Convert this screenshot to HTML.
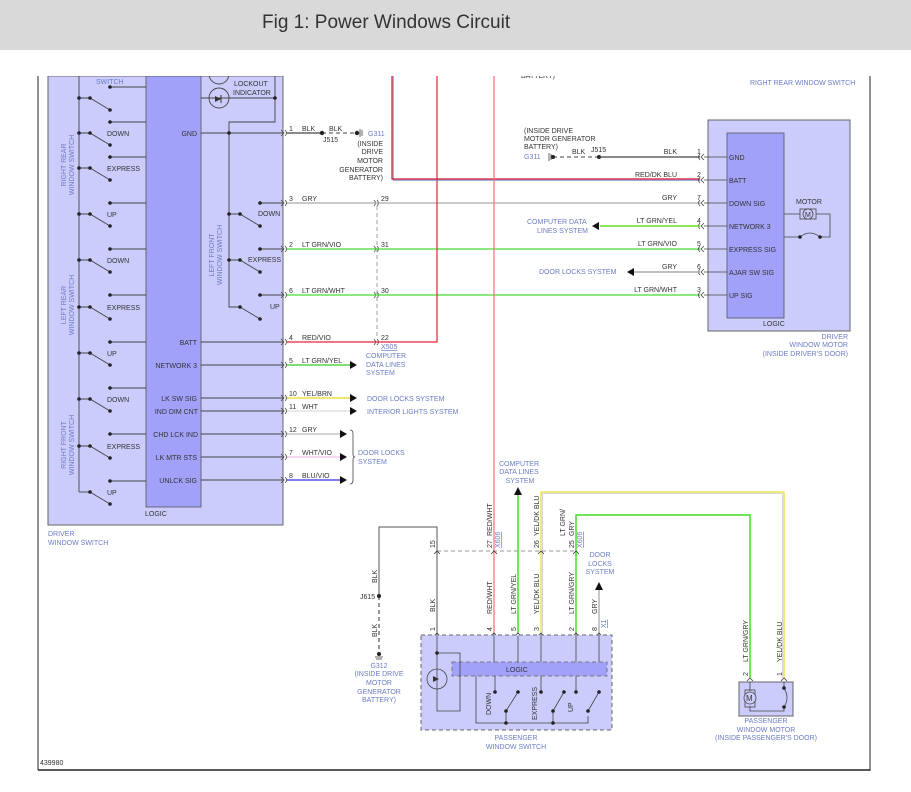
<!DOCTYPE html>
<html><head><meta charset="utf-8"><style>
html,body{margin:0;padding:0;background:#fff;}
svg{display:block;font-family:"Liberation Sans",sans-serif;}
.t{font-size:7px;fill:#333;}
.b{font-size:7px;fill:#6b7cc4;}
.w{fill:none;stroke-width:1.2;}
</style></head><body>
<svg width="911" height="792" viewBox="0 0 911 792" xmlns="http://www.w3.org/2000/svg">
<!-- frame -->
<line x1="38" y1="76" x2="38" y2="770" stroke="#222" stroke-width="1"/>
<line x1="870" y1="76" x2="870" y2="771" stroke="#222" stroke-width="1"/>
<line x1="38" y1="770" x2="870" y2="770" stroke="#222" stroke-width="1.5"/>
<text x="40" y="765" class="t">439980</text>

<!-- Driver window switch -->
<rect x="48" y="76" width="235" height="449" fill="#ccccfc" stroke="#666" stroke-width="1"/>
<rect x="146" y="76" width="55" height="431" fill="#a1a1f9" stroke="#555" stroke-width="0.8"/>
<text x="145" y="516" class="t">LOGIC</text>
<text x="48" y="536" class="b">DRIVER</text>
<text x="48" y="545" class="b">WINDOW SWITCH</text>
<text x="96" y="84" class="b">SWITCH</text>
<g stroke="#444" stroke-width="0.9" fill="none">
<line x1="79" y1="76" x2="79" y2="492"/>
<line x1="79" y1="492" x2="90" y2="492"/>
<path d="M110 87H146M110 122H146M110 157H146M110 203H146M110 249H146M110 295H146M110 342H146M110 388H146M110 434H146M110 481H146"/>
<path d="M79 98H90L110 110M79 133H90L110 145M79 168H90L110 180M79 214H90L110 226M79 260H90L110 272M79 307H90L110 319M79 353H90L110 365M79 399H90L110 411M79 446H90L110 458M90 492L110 504"/>
</g>
<g fill="#222">
<circle cx="110" cy="87" r="1.8"/><circle cx="110" cy="122" r="1.8"/><circle cx="110" cy="157" r="1.8"/><circle cx="110" cy="203" r="1.8"/><circle cx="110" cy="249" r="1.8"/><circle cx="110" cy="295" r="1.8"/><circle cx="110" cy="342" r="1.8"/><circle cx="110" cy="388" r="1.8"/><circle cx="110" cy="434" r="1.8"/><circle cx="110" cy="481" r="1.8"/>
<circle cx="79" cy="98" r="1.8"/><circle cx="90" cy="98" r="1.8"/><circle cx="110" cy="110" r="1.8"/>
<circle cx="79" cy="133" r="1.8"/><circle cx="90" cy="133" r="1.8"/><circle cx="110" cy="145" r="1.8"/>
<circle cx="79" cy="168" r="1.8"/><circle cx="90" cy="168" r="1.8"/><circle cx="110" cy="180" r="1.8"/>
<circle cx="79" cy="214" r="1.8"/><circle cx="90" cy="214" r="1.8"/><circle cx="110" cy="226" r="1.8"/>
<circle cx="79" cy="260" r="1.8"/><circle cx="90" cy="260" r="1.8"/><circle cx="110" cy="272" r="1.8"/>
<circle cx="79" cy="307" r="1.8"/><circle cx="90" cy="307" r="1.8"/><circle cx="110" cy="319" r="1.8"/>
<circle cx="79" cy="353" r="1.8"/><circle cx="90" cy="353" r="1.8"/><circle cx="110" cy="365" r="1.8"/>
<circle cx="79" cy="399" r="1.8"/><circle cx="90" cy="399" r="1.8"/><circle cx="110" cy="411" r="1.8"/>
<circle cx="79" cy="446" r="1.8"/><circle cx="90" cy="446" r="1.8"/><circle cx="110" cy="458" r="1.8"/>
<circle cx="90" cy="492" r="1.8"/><circle cx="110" cy="504" r="1.8"/>
</g>
<g class="t">
<text x="107" y="136">DOWN</text><text x="107" y="171">EXPRESS</text><text x="107" y="217">UP</text>
<text x="107" y="263">DOWN</text><text x="107" y="310">EXPRESS</text><text x="107" y="356">UP</text>
<text x="107" y="402">DOWN</text><text x="107" y="449">EXPRESS</text><text x="107" y="495">UP</text>
</g>
<g class="b" text-anchor="middle">
<text transform="translate(66,165) rotate(-90)">RIGHT REAR</text><text transform="translate(74,165) rotate(-90)">WINDOW SWITCH</text>
<text transform="translate(66,305) rotate(-90)">LEFT REAR</text><text transform="translate(74,305) rotate(-90)">WINDOW SWITCH</text>
<text transform="translate(66,445) rotate(-90)">RIGHT FRONT</text><text transform="translate(74,445) rotate(-90)">WINDOW SWITCH</text>
<text transform="translate(214,255) rotate(-90)">LEFT FRONT</text><text transform="translate(222,255) rotate(-90)">WINDOW SWITCH</text>
</g>
<!-- lockout -->
<g stroke="#444" stroke-width="0.9" fill="none">
<circle cx="219" cy="74" r="10"/><circle cx="219" cy="98" r="10"/>
<path d="M201 98H275V122H229V307H240L260 319"/>
<path d="M275 76V98"/>
<path d="M229 214H240L260 226M229 260H240L260 272"/>
<path d="M260 203H283M260 249H283M260 295H283"/>
<path d="M201 133H283M201 342H283M201 365H283M201 398H283M201 411H283M201 434H283M201 457H283M201 480H283"/>
</g>
<path d="M215 96l6 3-6 3z" fill="#333"/><line x1="221" y1="95" x2="221" y2="103" stroke="#333"/>
<g fill="#222"><circle cx="275" cy="98" r="1.8"/><circle cx="229" cy="133" r="1.8"/><circle cx="229" cy="214" r="1.8"/><circle cx="240" cy="214" r="1.8"/><circle cx="260" cy="226" r="1.8"/><circle cx="229" cy="260" r="1.8"/><circle cx="240" cy="260" r="1.8"/><circle cx="260" cy="272" r="1.8"/><circle cx="240" cy="307" r="1.8"/><circle cx="260" cy="319" r="1.8"/><circle cx="260" cy="203" r="1.8"/><circle cx="260" cy="249" r="1.8"/><circle cx="260" cy="295" r="1.8"/></g>
<g class="t">
<text x="234" y="86">LOCKOUT</text><text x="233" y="95">INDICATOR</text>
<text x="258" y="216">DOWN</text><text x="248" y="262">EXPRESS</text><text x="270" y="309">UP</text>
<g text-anchor="end"><text x="197" y="136">GND</text><text x="197" y="345">BATT</text><text x="197" y="368">NETWORK 3</text><text x="197" y="401">LK SW SIG</text><text x="198" y="414">IND DIM CNT</text><text x="198" y="437">CHD LCK IND</text><text x="197" y="460">LK MTR STS</text><text x="197" y="483">UNLCK SIG</text></g>
</g>

<!-- chevrons right of driver switch -->
<g stroke="#444" stroke-width="0.8" fill="none">
<path d="M281 130l3 3-3 3M285 130q3 3 0 6M281 200l3 3-3 3M285 200q3 3 0 6M281 246l3 3-3 3M285 246q3 3 0 6M281 292l3 3-3 3M285 292q3 3 0 6M281 339l3 3-3 3M285 339q3 3 0 6M281 362l3 3-3 3M285 362q3 3 0 6M281 395l3 3-3 3M285 395q3 3 0 6M281 408l3 3-3 3M285 408q3 3 0 6M281 431l3 3-3 3M285 431q3 3 0 6M281 454l3 3-3 3M285 454q3 3 0 6M281 477l3 3-3 3M285 477q3 3 0 6"/>
<path d="M374 200q3 3 0 6M377 200q3 3 0 6M374 246q3 3 0 6M377 246q3 3 0 6M374 292q3 3 0 6M377 292q3 3 0 6M374 339q3 3 0 6M377 339q3 3 0 6"/>
</g>
<line x1="377" y1="206" x2="377" y2="339" stroke="#888" stroke-width="0.8" stroke-dasharray="4,3"/>
<!-- wires -->
<line x1="287" y1="133" x2="322" y2="133" stroke="#444" class="w"/>
<line x1="322" y1="133" x2="358" y2="133" stroke="#444" stroke-width="1" stroke-dasharray="4,3"/>
<circle cx="322" cy="133" r="2.2" fill="#222"/><circle cx="357" cy="133" r="2.2" fill="#222"/>
<path d="M360 129v8M362 130v6" stroke="#666"/>
<line x1="287" y1="203" x2="700" y2="203" stroke="#aaa" class="w"/>
<line x1="287" y1="249" x2="700" y2="249" stroke="#44dd33" class="w" stroke-width="1.5"/>
<line x1="287" y1="295" x2="700" y2="295" stroke="#44dd33" class="w" stroke-width="1.5"/>
<path d="M287 342H437V76" stroke="#e8203a" class="w" stroke-width="1.3"/>
<path d="M393.2 76V180.2H700" stroke="#6677cc" fill="none" stroke-width="0.8"/>
<path d="M392 76V179H700" stroke="#d01830" class="w" stroke-width="1.3"/>
<path d="M494 76V633" stroke="#f07070" class="w" stroke-width="1.3"/>
<line x1="287" y1="365" x2="352" y2="365" stroke="#33cc22" class="w" stroke-width="1.5"/>
<line x1="287" y1="398" x2="352" y2="398" stroke="#e8d820" class="w" stroke-width="1.5"/>
<line x1="287" y1="411" x2="352" y2="411" stroke="#ddd" class="w" stroke-width="1.5"/>
<line x1="287" y1="434" x2="342" y2="434" stroke="#bbb" class="w" stroke-width="1.5"/>
<line x1="287" y1="457" x2="342" y2="457" stroke="#f0c0e8" class="w" stroke-width="1.5"/>
<line x1="287" y1="480" x2="342" y2="480" stroke="#3030e0" class="w" stroke-width="1.5"/>
<g fill="#111"><path d="M350 361l7 4-7 4z"/><path d="M350 394l7 4-7 4z"/><path d="M350 407l7 4-7 4z"/><path d="M340 430l7 4-7 4z"/><path d="M340 453l7 4-7 4z"/><path d="M340 476l7 4-7 4z"/></g>
<path d="M350 430q3 0 3 4v20q0 3 2 3q-2 0-2 3v20q0 4-3 4" stroke="#444" fill="none" stroke-width="0.8"/>
<g class="t">
<text x="289" y="131">1</text><text x="302" y="131">BLK</text><text x="329" y="131">BLK</text>
<text x="289" y="201">3</text><text x="302" y="201">GRY</text><text x="381" y="201">29</text>
<text x="289" y="247">2</text><text x="302" y="247">LT GRN/VIO</text><text x="381" y="247">31</text>
<text x="289" y="293">6</text><text x="302" y="293">LT GRN/WHT</text><text x="381" y="293">30</text>
<text x="289" y="340">4</text><text x="302" y="340">RED/VIO</text><text x="381" y="340">22</text>
<text x="289" y="363">5</text><text x="302" y="363">LT GRN/YEL</text>
<text x="289" y="396">10</text><text x="302" y="396">YEL/BRN</text>
<text x="289" y="409">11</text><text x="302" y="409">WHT</text>
<text x="289" y="432">12</text><text x="302" y="432">GRY</text>
<text x="289" y="455">7</text><text x="302" y="455">WHT/VIO</text>
<text x="289" y="478">8</text><text x="302" y="478">BLU/VIO</text>
<text x="323" y="142">J515</text>
<g text-anchor="end"><text x="383" y="146">(INSIDE</text><text x="383" y="154">DRIVE</text><text x="383" y="163">MOTOR</text><text x="383" y="172">GENERATOR</text><text x="383" y="180">BATTERY)</text></g>
</g>
<g class="b">
<text x="368" y="136">G311</text>
<text x="381" y="349" text-decoration="underline">X505</text>
<text x="366" y="358">COMPUTER</text><text x="366" y="367">DATA LINES</text><text x="366" y="375">SYSTEM</text>
<text x="367" y="401">DOOR LOCKS SYSTEM</text><text x="367" y="414">INTERIOR LIGHTS SYSTEM</text>
<text x="358" y="455">DOOR LOCKS</text><text x="358" y="464">SYSTEM</text>
<text x="750" y="85">RIGHT REAR WINDOW SWITCH</text>
</g>
<text x="521" y="78" class="t">BATTERY)</text>

<!-- Driver window motor -->
<rect x="708" y="120" width="142" height="211" fill="#ccccfc" stroke="#666"/>
<rect x="727" y="133" width="57" height="185" fill="#a1a1f9" stroke="#555" stroke-width="0.8"/>
<g stroke="#444" stroke-width="0.8" fill="none">
<path d="M704 154l-3 3 3 3M700 154q-3 3 0 6M704 177l-3 3 3 3M700 177q-3 3 0 6M704 200l-3 3 3 3M700 200q-3 3 0 6M704 223l-3 3 3 3M700 223q-3 3 0 6M704 246l-3 3 3 3M700 246q-3 3 0 6M704 269l-3 3 3 3M700 269q-3 3 0 6M704 292l-3 3 3 3M700 292q-3 3 0 6"/>
<path d="M704 157H727M704 180H727M704 203H727M704 226H727M704 249H727M704 272H727M704 295H727"/>
<path d="M784 214H800M816 214H830V237H820M800 237H784"/>
<path d="M800 237q10-8 20 0"/>
<rect x="800" y="209" width="16" height="10"/>
</g>
<circle cx="808" cy="214" r="5" fill="#ccccfc" stroke="#444" stroke-width="0.8"/>
<text x="805" y="217" font-size="7" fill="#333">M</text>
<circle cx="800" cy="237" r="1.8" fill="#222"/><circle cx="820" cy="237" r="1.8" fill="#222"/>
<g class="t">
<text x="729" y="160">GND</text><text x="729" y="183">BATT</text><text x="729" y="206">DOWN SIG</text><text x="729" y="229">NETWORK 3</text><text x="729" y="252">EXPRESS SIG</text><text x="729" y="275">AJAR SW SIG</text><text x="729" y="298">UP SIG</text>
<text x="796" y="204">MOTOR</text><text x="763" y="326">LOGIC</text>
<text x="697" y="154">1</text><text x="697" y="177">2</text><text x="697" y="200">7</text><text x="697" y="223">4</text><text x="697" y="246">5</text><text x="697" y="269">6</text><text x="697" y="292">3</text>
<g text-anchor="end"><text x="677" y="154">BLK</text><text x="677" y="177">RED/DK BLU</text><text x="677" y="200">GRY</text><text x="677" y="223">LT GRN/YEL</text><text x="677" y="246">LT GRN/VIO</text><text x="677" y="269">GRY</text><text x="677" y="292">LT GRN/WHT</text></g>
<text x="524" y="133">(INSIDE DRIVE</text><text x="524" y="141">MOTOR GENERATOR</text><text x="524" y="149">BATTERY)</text>
<text x="572" y="154">BLK</text><text x="591" y="152">J515</text>
</g>
<g class="b">
<text x="524" y="159">G311</text>
<text x="527" y="224">COMPUTER DATA</text><text x="537" y="233">LINES SYSTEM</text>
<text x="539" y="274">DOOR LOCKS SYSTEM</text>
<g text-anchor="end"><text x="848" y="339">DRIVER</text><text x="848" y="347">WINDOW MOTOR</text><text x="848" y="356">(INSIDE DRIVER'S DOOR)</text></g>
</g>
<path d="M549 153v8M551 154v6" stroke="#666"/>
<line x1="553" y1="157" x2="599" y2="157" stroke="#444" stroke-dasharray="4,3"/>
<circle cx="553" cy="157" r="2" fill="#222"/><circle cx="599" cy="157" r="2" fill="#222"/>
<line x1="599" y1="157" x2="700" y2="157" stroke="#444" class="w"/>
<line x1="600" y1="226" x2="700" y2="226" stroke="#66dd22" stroke-width="1.5"/>
<path d="M592 226l7-4v8z" fill="#111"/>
<line x1="632" y1="272" x2="700" y2="272" stroke="#aaa" stroke-width="1.5"/>
<path d="M627 272l7-4v8z" fill="#111"/>

<!-- Passenger section -->
<path d="M379 596V527H437V633" stroke="#555" fill="none" stroke-width="1"/>
<line x1="379" y1="596" x2="379" y2="652" stroke="#333" stroke-dasharray="4,3"/>
<circle cx="379" cy="596" r="2" fill="#222"/><circle cx="379" cy="654" r="2" fill="#222"/>
<path d="M375 657h8M376 659h6" stroke="#666"/>
<line x1="437" y1="551" x2="577" y2="551" stroke="#999" stroke-dasharray="4,3"/>
<line x1="518" y1="495" x2="518" y2="633" stroke="#44dd22" stroke-width="1.5"/>
<path d="M514 495l4-8 4 8z" fill="#111"/>
<path d="M541 633V492H784V678" stroke="#e8e030" fill="none" stroke-width="1.3"/>
<path d="M542.5 633V493.5H782.5V678" stroke="#aaa" fill="none" stroke-width="0.5"/>
<path d="M576 633V515H750V678" stroke="#44dd22" fill="none" stroke-width="1.5"/>
<line x1="599" y1="590" x2="599" y2="633" stroke="#aaa" stroke-width="1.3"/>
<path d="M595 590l4-8 4 8z" fill="#111"/>
<g stroke="#444" stroke-width="0.8" fill="none">
<path d="M434 554l3-3 3 3M491 554l3-3 3 3M538 554l3-3 3 3M573 554l3-3 3 3"/>
<path d="M434 636l3-3 3 3M491 636l3-3 3 3M515 636l3-3 3 3M538 636l3-3 3 3M573 636l3-3 3 3M596 636l3-3 3 3"/>
<path d="M747 681l3-3 3 3M781 681l3-3 3 3"/>
</g>
<rect x="421" y="635" width="191" height="95" fill="#ccccfc" stroke="#666" stroke-dasharray="4,3"/>
<rect x="452" y="662" width="155" height="14" fill="#a1a1f9" stroke="#777" stroke-dasharray="4,3"/>
<text x="506" y="672" class="t">LOGIC</text>
<g stroke="#444" stroke-width="0.8" fill="none">
<path d="M437 636V711H460V653H437"/>
<circle cx="437" cy="679" r="10"/>
<path d="M494 636V662M518 636V662M541 636V662M576 636V662M599 636V662"/>
<path d="M476 676V723H588V716M495 692V676M541 692V676M576 692V676"/>
<path d="M506 723V711L518 692M553 723V711L564 692M588 711L599 692"/>
</g>
<path d="M433 676l6 3-6 3z" fill="#333"/>
<g fill="#222"><circle cx="437" cy="653" r="1.8"/><circle cx="495" cy="692" r="1.8"/><circle cx="518" cy="692" r="1.8"/><circle cx="506" cy="711" r="1.8"/><circle cx="506" cy="723" r="1.8"/><circle cx="541" cy="692" r="1.8"/><circle cx="564" cy="692" r="1.8"/><circle cx="553" cy="711" r="1.8"/><circle cx="553" cy="723" r="1.8"/><circle cx="576" cy="692" r="1.8"/><circle cx="599" cy="692" r="1.8"/><circle cx="588" cy="711" r="1.8"/></g>
<g class="t">
<text transform="translate(491,715) rotate(-90)">DOWN</text>
<text transform="translate(537,720) rotate(-90)">EXPRESS</text>
<text transform="translate(573,712) rotate(-90)">UP</text>
<text transform="translate(435,548) rotate(-90)">15</text>
<text transform="translate(435,612) rotate(-90)">BLK</text>
<text transform="translate(377,583) rotate(-90)">BLK</text>
<text transform="translate(377,637) rotate(-90)">BLK</text>
<text x="360" y="599">J615</text>
<text transform="translate(492,548) rotate(-90)">27</text><text transform="translate(492,536) rotate(-90)">RED/WHT</text>
<text transform="translate(492,614) rotate(-90)">RED/WHT</text>
<text transform="translate(516,614) rotate(-90)">LT GRN/YEL</text>
<text transform="translate(539,548) rotate(-90)">26</text><text transform="translate(539,536) rotate(-90)">YEL/DK BLU</text>
<text transform="translate(539,614) rotate(-90)">YEL/DK BLU</text>
<text transform="translate(574,548) rotate(-90)">25</text><text transform="translate(565,536) rotate(-90)">LT GRN/</text><text transform="translate(574,536) rotate(-90)">GRY</text>
<text transform="translate(574,614) rotate(-90)">LT GRN/GRY</text>
<text transform="translate(597,614) rotate(-90)">GRY</text>
<text transform="translate(435,631) rotate(-90)">1</text><text transform="translate(492,631) rotate(-90)">4</text><text transform="translate(516,631) rotate(-90)">5</text><text transform="translate(539,631) rotate(-90)">3</text><text transform="translate(574,631) rotate(-90)">2</text><text transform="translate(597,631) rotate(-90)">8</text>
<text transform="translate(748,662) rotate(-90)">LT GRN/GRY</text>
<text transform="translate(782,662) rotate(-90)">YEL/DK BLU</text>
<text transform="translate(748,676) rotate(-90)">2</text><text transform="translate(782,676) rotate(-90)">1</text>
</g>
<g class="b">
<text transform="translate(500,548) rotate(-90)" text-decoration="underline">X606</text>
<text transform="translate(582,548) rotate(-90)" text-decoration="underline">X606</text>
<text transform="translate(606,628) rotate(-90)" text-decoration="underline">X1</text>
<g text-anchor="middle">
<text x="519" y="466">COMPUTER</text><text x="519" y="474">DATA LINES</text><text x="520" y="483">SYSTEM</text>
<text x="600" y="557">DOOR</text><text x="600" y="566">LOCKS</text><text x="600" y="574">SYSTEM</text>
<text x="379" y="668">G312</text><text x="379" y="676">(INSIDE DRIVE</text><text x="379" y="685">MOTOR</text><text x="379" y="694">GENERATOR</text><text x="379" y="702">BATTERY)</text>
<text x="516" y="740">PASSENGER</text><text x="516" y="749">WINDOW SWITCH</text>
<text x="766" y="723">PASSENGER</text><text x="766" y="732">WINDOW MOTOR</text><text x="766" y="740">(INSIDE PASSENGER'S DOOR)</text>
</g></g>
<rect x="739" y="682" width="54" height="34" fill="#ccccfc" stroke="#666"/>
<g stroke="#444" stroke-width="0.8" fill="none">
<path d="M750 682V691M750 706V711H784V707M784 682V688"/>
<path d="M784 688q6 10 0 19"/>
<rect x="745" y="690" width="10" height="17"/>
</g>
<circle cx="750" cy="698" r="6" fill="#ccccfc" stroke="#444" stroke-width="0.8"/>
<text x="746" y="701" font-size="8" fill="#333">M</text>
<circle cx="784" cy="688" r="1.8" fill="#222"/><circle cx="784" cy="707" r="1.8" fill="#222"/>

<!-- clip top area & header -->
<rect x="0" y="50" width="911" height="26" fill="#fff"/>
<rect x="0" y="0" width="911" height="50" fill="#d9d9d9"/>
<text x="262" y="28" font-size="19" fill="#333">Fig 1: Power Windows Circuit</text>
</svg>
</body></html>
